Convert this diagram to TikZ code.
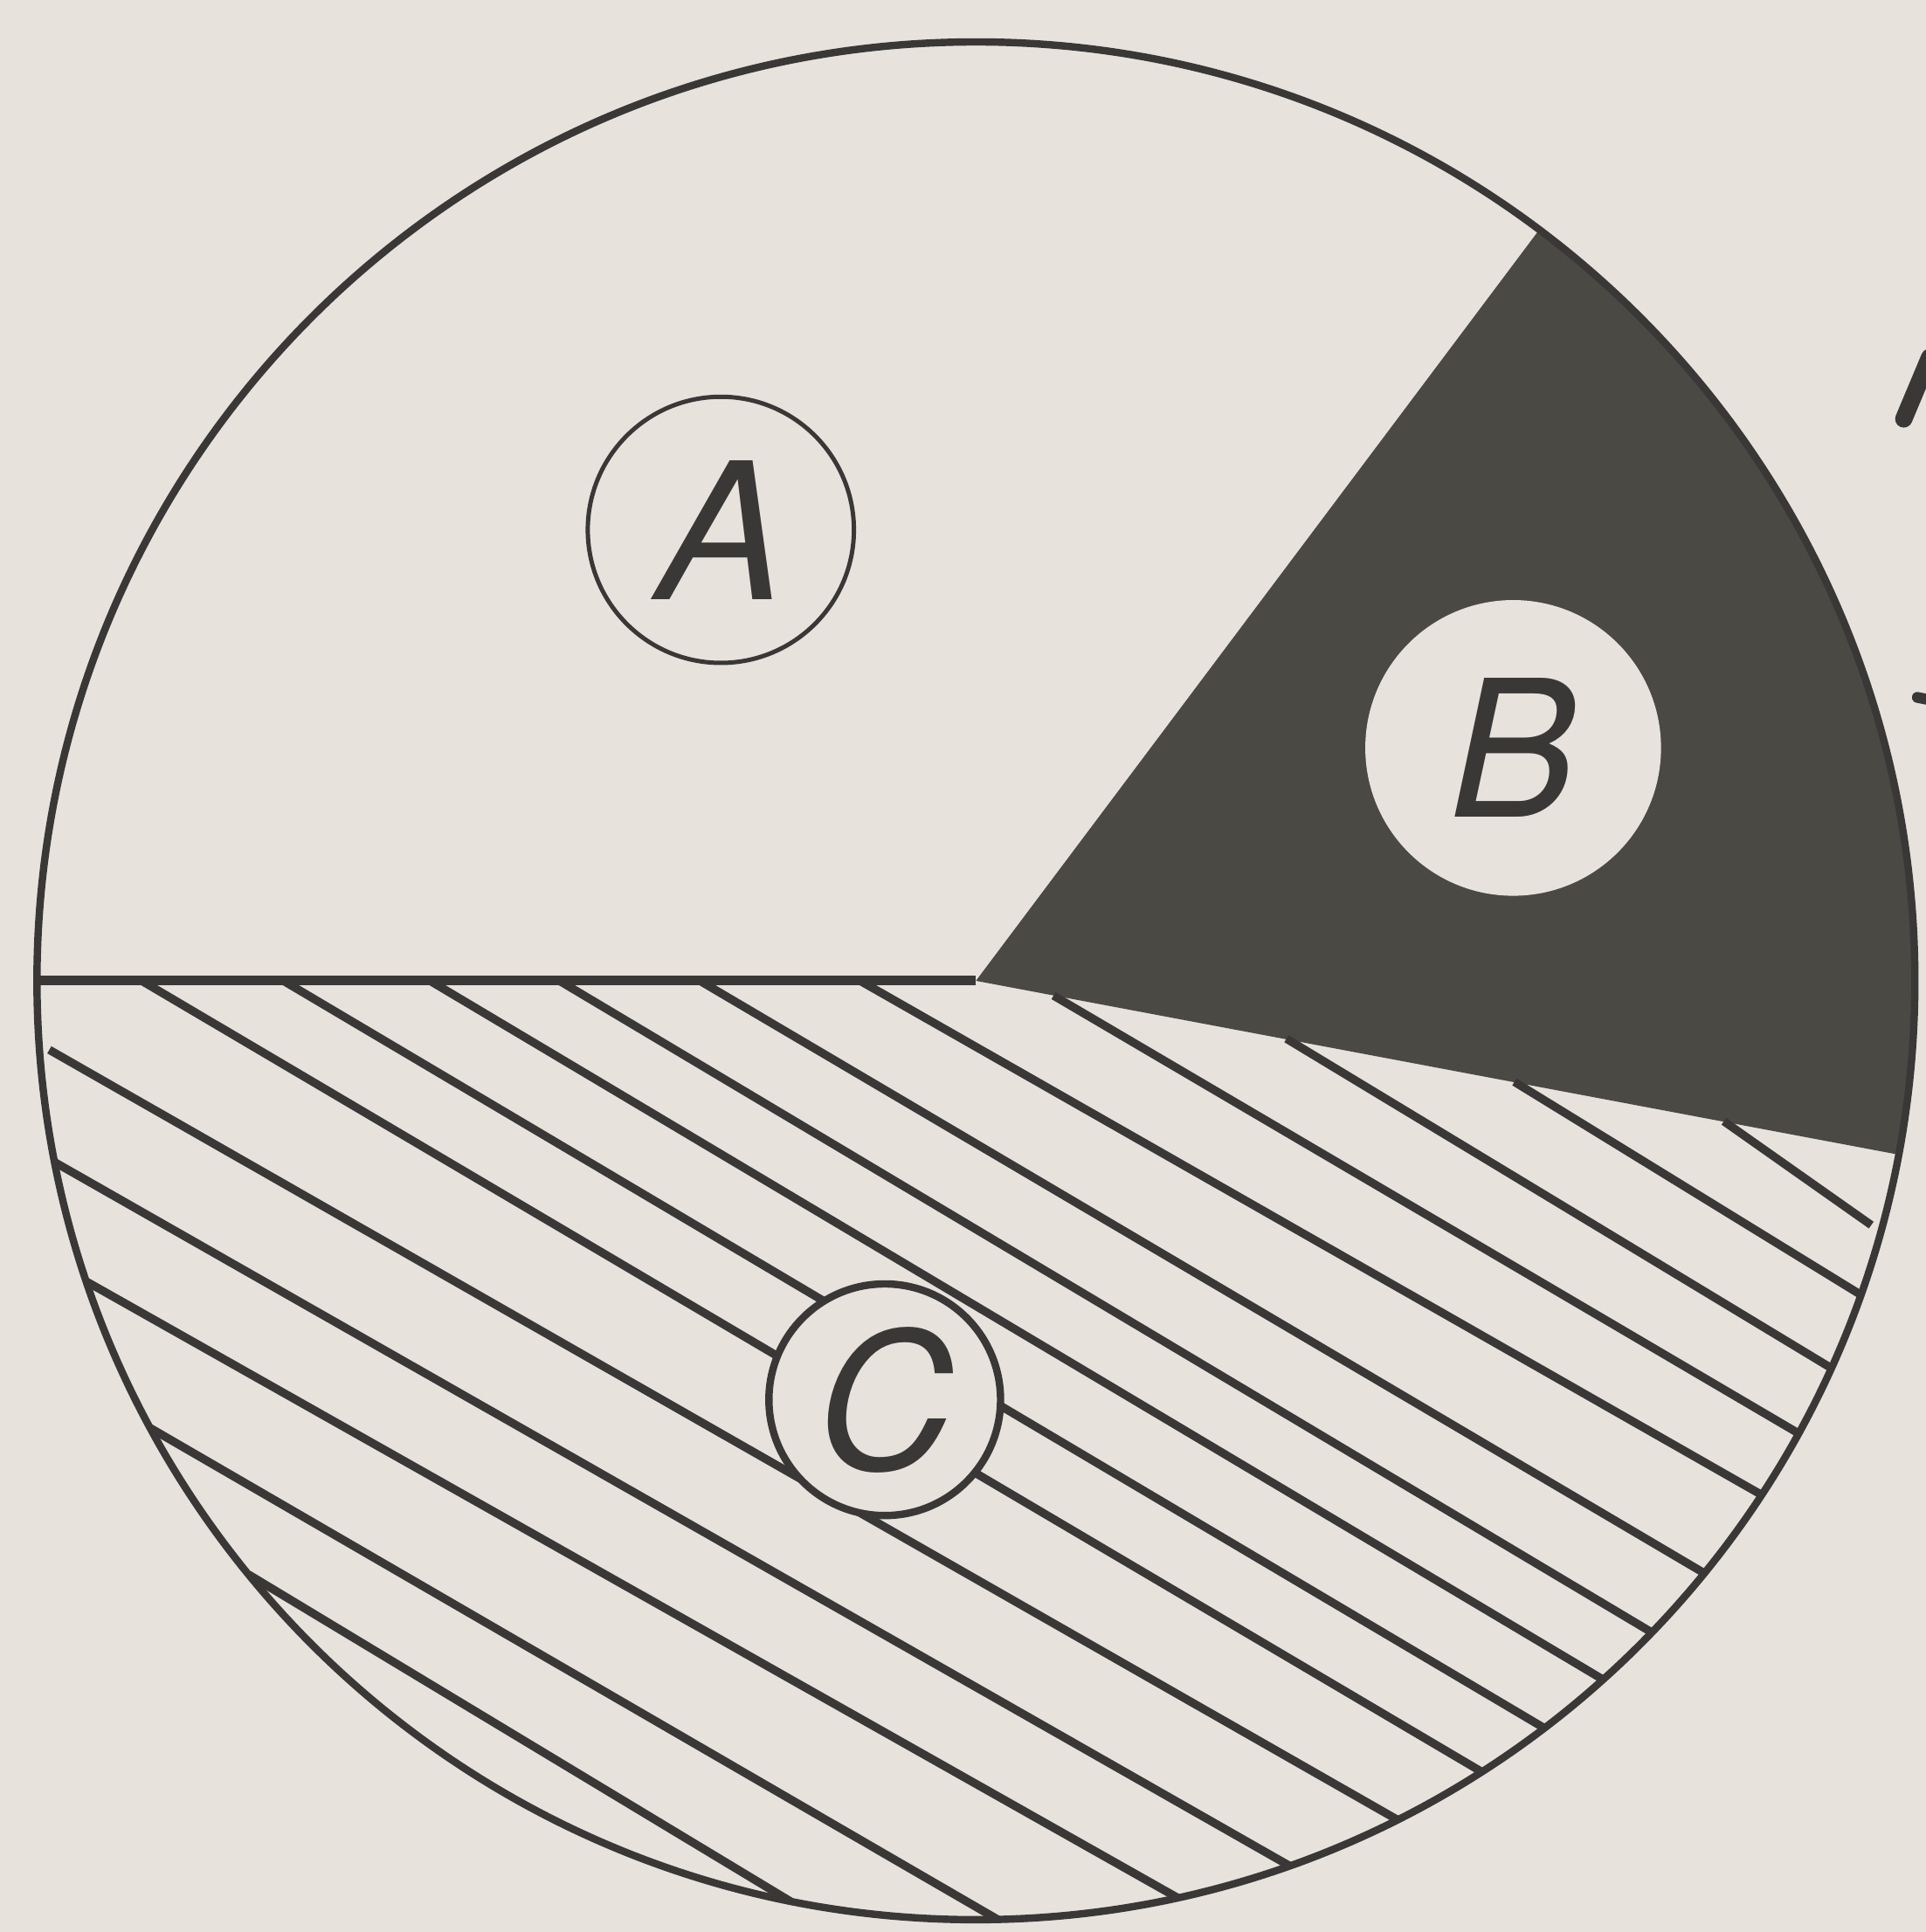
\documentclass[tikz,border=0pt]{standalone}
\usepackage{tikz}
\usepackage{xcolor}
\usepackage{fontspec}
\setsansfont{TeX Gyre Heros}
\usetikzlibrary{calc}

\definecolor{paper}{RGB}{232,226,220}
\definecolor{ink}{RGB}{58,56,55}
\definecolor{darkfill}{RGB}{74,73,68}

\begin{document}
\begin{tikzpicture}[x=0.1mm,y=-0.1mm,
    outline/.style={draw=ink,line width=1.7pt},
    hatch/.style={draw=ink,line width=1.9pt},
    tag/.style={circle,inner sep=0pt,text=ink,font=\fontsize{44}{46}\selectfont\sffamily\itshape}]
    % Paper
    \fill[paper] (0,0) rectangle (1563,1568);
    \useasboundingbox (0,0) rectangle (1563,1568);
    \coordinate (o) at (792,796);
    % Sector B
    \fill[darkfill] (o) -- ++(-53.13:762) arc[start angle=-53.13,end angle=10.67,radius=762] -- cycle;
    % Hatching of C
    \begin{scope}
        \clip (o) circle[radius=762];
        \foreach \sx/\sy/\ex/\ey in {1399/910/1514/991, 1229/878/1499/1044, 1044/843/1479/1106,
            855/808/1454/1160, 698/796/1424/1210, 568/796/1375/1272, 454/796/1329/1318,
            349/796/1289/1356, 230/796/1244/1397, 115/796/1194/1433, 40/852/1129/1474,
            44/943/1039/1510, 70/1040/950/1537, 122/1159/810/1558, 202/1278/633/1538}
            \draw[hatch] (\sx,\sy) -- ($(\sx,\sy)!1.04!(\ex,\ey)$);
    \end{scope}
    % Outline and divider
    \draw[outline] (o) circle[radius=762];
    \draw[outline,line width=2.2pt] (o) -- ++(180:762);
    % Labels
    \node[tag,draw=ink,line width=1pt,minimum size=21.6mm] (labA) at (585,430) {A};
    \node[tag,fill=paper,minimum size=24mm] (labB) at (1228,607) {B};
    \node[tag,draw=ink,fill=paper,line width=1.7pt,minimum size=18.8mm] (labC) at (718,1136) {C};
    % Cut-off marks at the right edge
    \draw[ink,line width=4pt,line cap=round] (1545,340) -- (1566,290);
    \draw[ink,line width=2.5pt,line cap=round] (1556,566) -- (1566,568);
\end{tikzpicture}
\end{document}
